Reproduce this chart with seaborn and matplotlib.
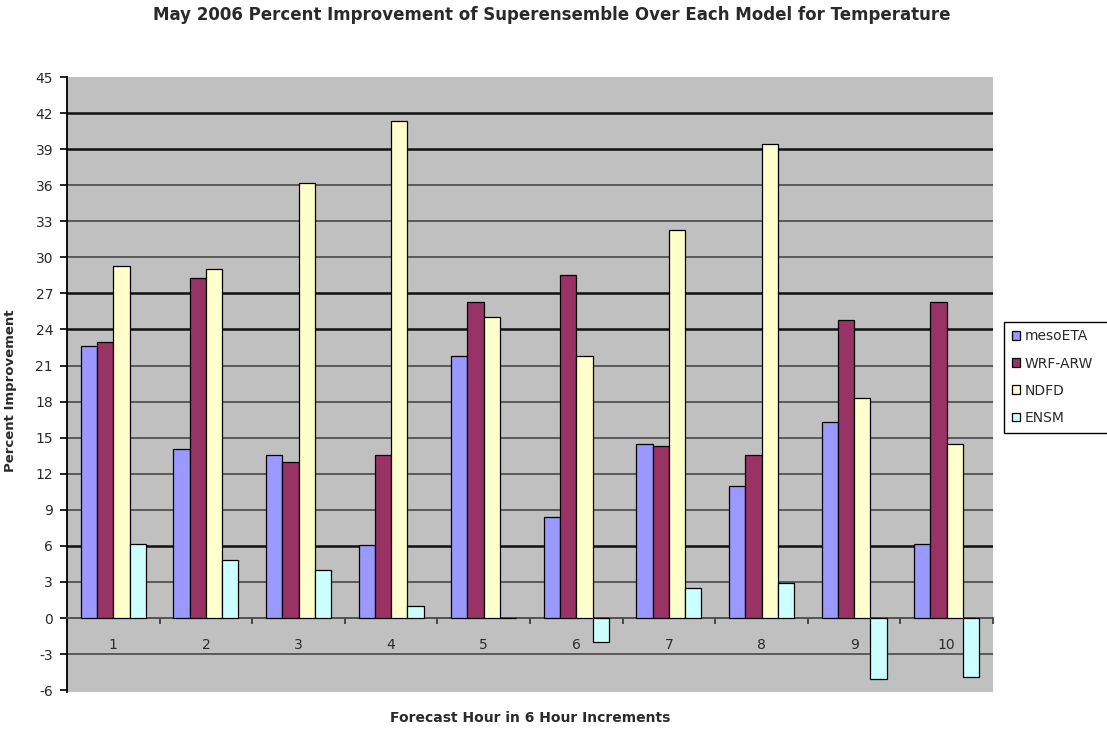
import numpy as np
import pandas as pd
import matplotlib
matplotlib.use("Agg")
import matplotlib.pyplot as plt
import seaborn as sns

# Percent improvement of the superensemble over each model, by forecast hour
hours = ["1", "2", "3", "4", "5", "6", "7", "8", "9", "10"]
models = ["mesoETA", "WRF-ARW", "NDFD", "ENSM"]
meso_eta = [22.6, 14.1, 13.6, 6.1, 21.8, 8.4, 14.5, 11.0, 16.3, 6.2]
wrf_arw = [23.0, 28.3, 13.0, 13.6, 26.3, 28.5, 14.3, 13.6, 24.8, 26.3]
ndfd = [29.3, 29.0, 36.2, 41.3, 25.0, 21.8, 32.3, 39.4, 18.3, 14.5]
ensm = [6.2, 4.8, 4.0, 1.0, 0.0, -2.0, 2.5, 2.9, -5.1, -4.9]
y_ticks = list(range(-6, 46, 3))

colors = ["#9999FF", "#993366", "#FFFFCC", "#CCFFFF"]

df = pd.DataFrame({
    "hour": hours * 4,
    "model": sum([[m] * len(hours) for m in models], []),
    "value": meso_eta + wrf_arw + ndfd + ensm,
})

sns.set_theme(style="white")
plt.rcParams["font.family"] = ["DejaVu Sans"]

text_col = "#2a2a2a"
fig = plt.figure(figsize=(11.07, 7.31), dpi=100)
ax = fig.add_axes([67 / 1107, 1 - 692 / 731, (993 - 67) / 1107, (692 - 77) / 731])
ax.set_facecolor("#C0C0C0")

sns.barplot(data=df, x="hour", y="value", hue="model", order=hours,
            hue_order=models, palette=colors, saturation=1, width=0.7, gap=0,
            edgecolor="black", linewidth=0.9, ax=ax, zorder=3)

ax.set_ylim(-6.15, 45)
ax.set_xlim(-0.5, len(hours) - 0.5)
ax.set_yticks(y_ticks)
ax.set_yticklabels([str(t) for t in y_ticks], fontsize=10, color=text_col)

# horizontal gridlines, some heavier than others
ax.yaxis.grid(True, zorder=0)
ax.set_axisbelow(True)
heavy = {6, 24, 27, 39, 42}
for t, gl in zip(y_ticks, ax.yaxis.get_gridlines()):
    if t in heavy:
        gl.set_color("#111111")
        gl.set_linewidth(1.8)
    else:
        gl.set_color("#5a5a5a")
        gl.set_linewidth(1.4)
    if t in (-6, 0, 45):
        gl.set_visible(False)

# category axis crossing at zero
for side in ["top", "right"]:
    ax.spines[side].set_visible(False)
ax.spines["left"].set_color("black")
ax.spines["left"].set_linewidth(1.3)
ax.spines["bottom"].set_position(("data", 0))
ax.spines["bottom"].set_color("#4a4a4a")
ax.spines["bottom"].set_linewidth(1.3)
ax.tick_params(axis="y", which="major", left=True, length=5, width=1.2,
               color="black", pad=5)
ax.tick_params(axis="x", which="major", bottom=False, length=0, pad=14,
               labelsize=10, labelcolor=text_col)
ax.set_xticks(np.arange(-0.5, len(hours), 1.0), minor=True)
ax.tick_params(axis="x", which="minor", bottom=True, length=4, width=1.2,
               color="#333333", direction="out")

ax.set_xlabel("Forecast Hour in 6 Hour Increments", fontsize=10,
              fontweight="bold", color=text_col)
ax.xaxis.set_label_coords(0.5, -0.031)
ax.set_ylabel("Percent Improvement", fontsize=9.5, fontweight="bold",
              color=text_col)
ax.yaxis.set_label_coords(-0.0535, 0.49)

fig.text(552 / 1107, 1 - 15 / 731,
         "May 2006 Percent Improvement of Superensemble Over Each Model for Temperature",
         ha="center", va="center", fontsize=12, fontweight="bold", color=text_col)

handles, labels = ax.get_legend_handles_labels()
ax.legend(handles, labels, loc="upper left", mode="expand",
          bbox_to_anchor=(1004 / 1107, 1 - 329 / 731, 120 / 1107, 0.01),
          bbox_transform=fig.transFigure, frameon=True, fancybox=False,
          edgecolor="black", framealpha=1, fontsize=10, handlelength=0.6,
          handleheight=0.6, handletextpad=0.35, labelspacing=0.95,
          borderpad=0.55, borderaxespad=0, labelcolor=text_col)
leg = ax.get_legend()
leg.get_frame().set_linewidth(1.0)

fig.savefig("out.png", dpi=100, facecolor="white")
